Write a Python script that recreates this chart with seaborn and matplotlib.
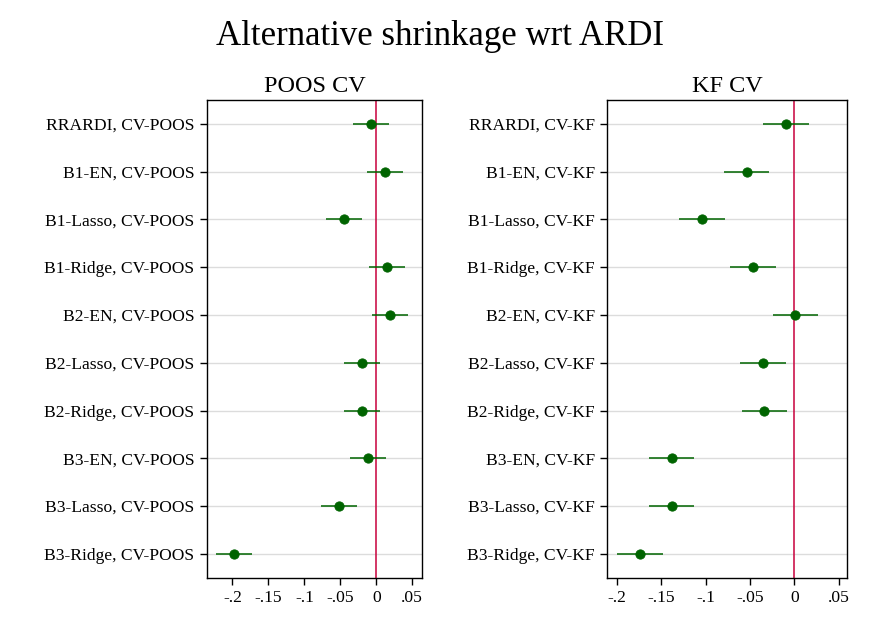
import numpy as np
import pandas as pd
import matplotlib
matplotlib.use("Agg")
import matplotlib.pyplot as plt
import seaborn as sns

# Alternative shrinkage wrt ARDI - estimates with confidence bands

methods = ["RRARDI", "B1-EN", "B1-Lasso", "B1-Ridge", "B2-EN",
           "B2-Lasso", "B2-Ridge", "B3-EN", "B3-Lasso", "B3-Ridge"]

poos_est = [-0.008, 0.012, -0.045, 0.015, 0.019, -0.020, -0.020, -0.0115, -0.052, -0.198]
poos_lo = [-0.032, -0.013, -0.070, -0.010, -0.006, -0.045, -0.045, -0.0365, -0.077, -0.223]
poos_hi = [0.017, 0.037, -0.020, 0.040, 0.044, 0.005, 0.005, 0.0135, -0.027, -0.173]

kf_est = [-0.0094, -0.0533, -0.1041, -0.0466, 0.0008, -0.0357, -0.0345, -0.1383, -0.1383, -0.1744]
kf_lo = [-0.0353, -0.0793, -0.1300, -0.0725, -0.0240, -0.0612, -0.0586, -0.1639, -0.1639, -0.2000]
kf_hi = [0.0162, -0.0285, -0.0785, -0.0210, 0.0264, -0.0097, -0.0082, -0.1128, -0.1128, -0.1485]

xticks = [-0.2, -0.15, -0.1, -0.05, 0, 0.05]
xticklabels = ["-.2", "-.15", "-.1", "-.05", "0", ".05"]

green = "#006400"
red = "#c8003c"

sns.set_style("white")
plt.rcParams['font.family'] = ['Liberation Serif', 'DejaVu Serif']
plt.rcParams['text.color'] = 'black'
plt.rcParams['xtick.color'] = 'black'
plt.rcParams['ytick.color'] = 'black'

fig = plt.figure(figsize=(8.8, 6.4), dpi=100)
ax1 = fig.add_axes([0.2349, 0.0973, 0.245, 0.7464])
ax2 = fig.add_axes([0.6901, 0.0973, 0.2727, 0.7464])

panels = [
    (ax1, "POOS CV", "CV-POOS", poos_est, poos_lo, poos_hi, (-0.2356, 0.0639)),
    (ax2, "KF CV", "CV-KF", kf_est, kf_lo, kf_hi, (-0.2109, 0.0598)),
]

for ax, title, suffix, est, lo, hi, xlim in panels:
    df = pd.DataFrame({
        "label": [m + ", " + suffix for m in methods],
        "pos": np.arange(len(methods)),
        "est": est,
        "lo": lo,
        "hi": hi,
    })
    for p in df["pos"]:
        ax.axhline(p, color="#dcdcdc", lw=1, zorder=0)
    ax.axvline(0, color=red, lw=1.1, zorder=1)
    ax.hlines(df["pos"], df["lo"], df["hi"], color=green, lw=1.1, zorder=2)
    sns.scatterplot(data=df, x="est", y="pos", ax=ax, color=green,
                    marker="o", s=45, edgecolor=green, linewidth=0.6, zorder=3)

    ax.set_ylim(len(methods) - 0.5, -0.5)
    ax.set_xlim(*xlim)
    ax.set_yticks(df["pos"])
    ax.set_yticklabels(df["label"], fontsize=12.6)
    ax.set_xticks(xticks)
    ax.set_xticklabels(xticklabels, fontsize=12.6)
    ax.set_xlabel("")
    ax.set_ylabel("")
    ax.set_title(title, fontsize=17.5, pad=6)
    ax.tick_params(axis="both", direction="out", length=5, width=1, color="black",
                   left=True, bottom=True, pad=4)
    for sp in ax.spines.values():
        sp.set_color("black")
        sp.set_linewidth(1)

fig.suptitle("Alternative shrinkage wrt ARDI", fontsize=25, y=0.968)

fig.savefig("out.png", dpi=100)
